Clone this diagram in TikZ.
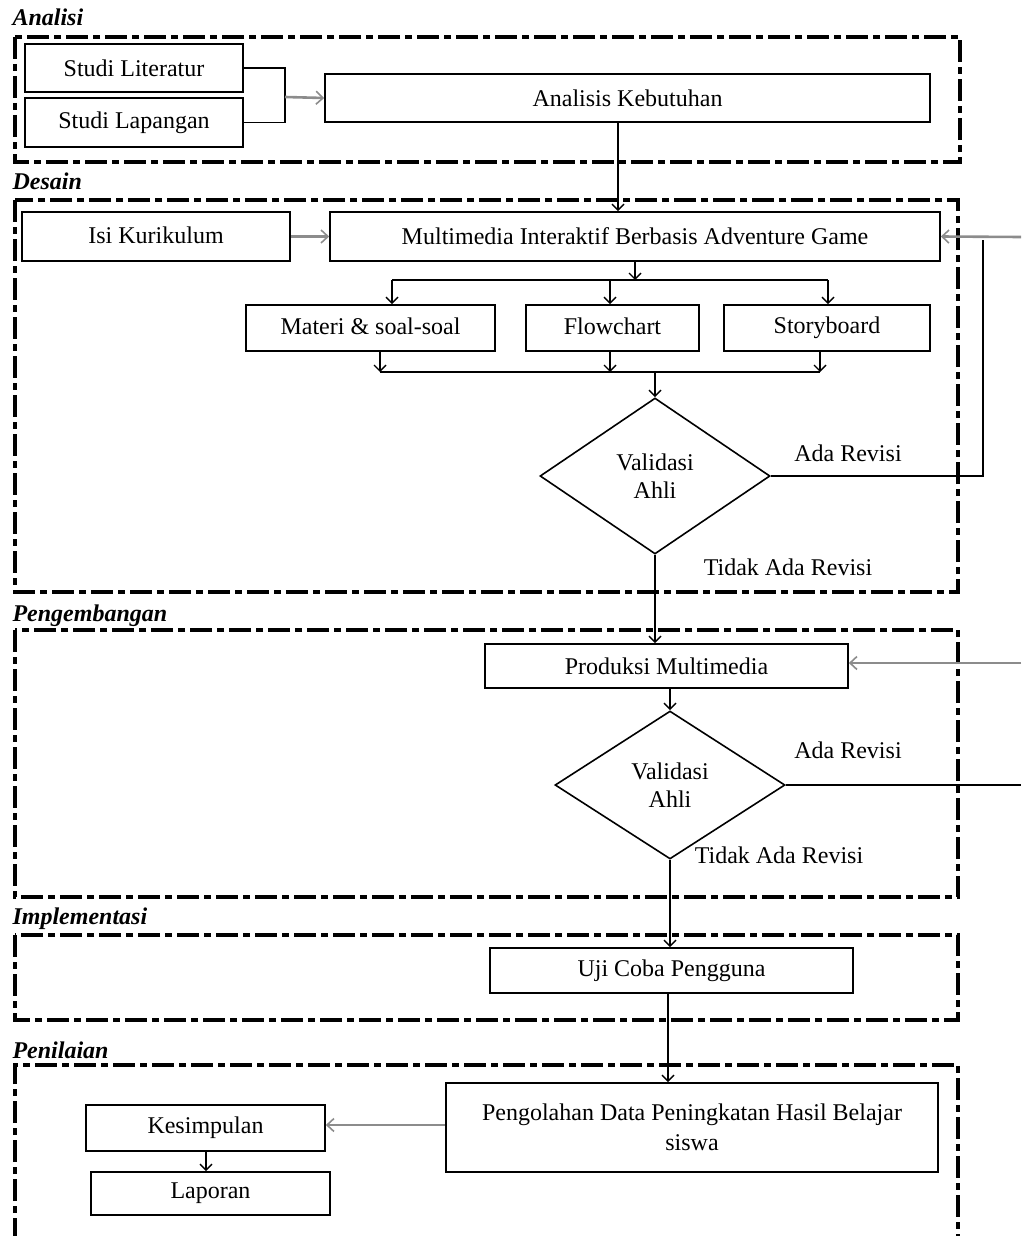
\documentclass[tikz,border=0pt]{standalone}
\usepackage{fontspec}
\setmainfont{Liberation Serif}
\usetikzlibrary{arrows.meta,shapes.geometric}
\begin{document}
\begin{tikzpicture}[x=1pt,y=-1pt,
  box/.style={draw, line width=1.6pt, inner sep=0pt, font=\fontsize{24}{28}\selectfont},
  dia/.style={draw, diamond, line width=1.6pt, inner sep=0pt, align=center, font=\fontsize{24}{28}\selectfont},
  lbl/.style={font=\fontsize{24}{28}\selectfont},
  sec/.style={anchor=west, font=\fontsize{24}{28}\selectfont\bfseries\itshape},
  cont/.style={line width=3.5pt, dash pattern=on 22pt off 5pt on 7pt off 5pt},
  ln/.style={line width=1.6pt},
  arr/.style={ln, -{Straight Barb[length=6pt,width=12pt,line width=1.4pt]}},
  garr/.style={line width=2.6pt, draw=black!45, -{Straight Barb[length=7pt,width=13pt,line width=1.6pt]}}
]
\useasboundingbox (0,0) rectangle (1021,1236);

% containers
\draw[cont] (15,37) rectangle (960,162);
\draw[cont] (15,200) rectangle (958,592);
\draw[cont] (15,630) rectangle (958,897);
\draw[cont] (15,935) rectangle (958,1020);
\draw[cont] (15,1240) -- (15,1065) -- (958,1065) -- (958,1240);

% section labels
\node[sec] (sa) at (9,17) {Analisi};
\node[sec] (sd) at (9,181) {Desain};
\node[sec] (sp) at (9,616) {Pengembangan};
\node[sec] (si) at (9,919) {Implementasi};
\node[sec] (sn) at (9,1050) {Penilaian};

% Analisis
\node[box, minimum width=218, minimum height=48] (lit) at (134,68) {Studi Literatur};
\node[box, minimum width=218, minimum height=49] (lap) at (134,122.5) {Studi Lapangan};
\node[box, minimum width=605, minimum height=48] (ak) at (627.5,98) {Analisis Kebutuhan};
\coordinate (br) at (285,97);
\draw[ln] (lit.east) -| (br) |- (lap.east);
\draw[garr] (br) -- (ak.west);

% Desain
\node[box, minimum width=268, minimum height=49] (kur) at (156,236.5) {\raisebox{3pt}{Isi Kurikulum}};
\node[box, minimum width=610, minimum height=49] (mm) at (635,236.5) {Multimedia Interaktif Berbasis Adventure Game};
\draw[arr] (ak.south -| 618,0) -- (mm.north -| 618,0);
\draw[garr] (kur.east) -- (mm.west);

\node[box, minimum width=249, minimum height=46] (mat) at (370.5,328) {\raisebox{3pt}{Materi \& soal-soal}};
\node[box, minimum width=173, minimum height=46] (flow) at (612.5,328) {\raisebox{3pt}{Flowchart}};
\node[box, minimum width=206, minimum height=46] (story) at (827,328) {Storyboard};

\coordinate (bus1) at (635,280);
\draw[arr] (mm.south) -- (bus1);
\draw[ln] (392,280) -- (828,280);
\draw[arr] (392,280) -- (mat.north -| 392,0);
\draw[arr] (610,280) -- (flow.north -| 610,0);
\draw[arr] (828,280) -- (story.north -| 828,0);

\draw[arr] (mat.south -| 380,0) -- (380,372);
\draw[arr] (flow.south -| 610,0) -- (610,372);
\draw[arr] (story.south -| 820,0) -- (820,372);
\draw[ln] (380,372) -- (820,372);

\node[dia, minimum width=230, minimum height=156] (v1) at (655,476) {Validasi\\Ahli};
\draw[arr] (655,372) -- (v1.north);
\node[lbl] (ar1) at (848,453) {Ada Revisi};
\node[lbl] (tr1) at (788,567) {Tidak Ada Revisi};
\coordinate (lp1) at (983,476);
\coordinate (e1) at (1021,237);
\draw[ln] (v1.east) -- (lp1) -- (983,240);
\draw[garr] (e1) -- (mm.east);

% Pengembangan
\node[box, minimum width=363, minimum height=44] (prod) at (666.5,666) {Produksi Multimedia};
\draw[arr] (v1.south) -- (prod.north -| v1.south);
\node[dia, minimum width=230, minimum height=148] (v2) at (670,785) {Validasi\\Ahli};
\draw[arr] (prod.south -| v2.north) -- (v2.north);
\node[lbl] (ar2) at (848,750) {Ada Revisi};
\node[lbl] (tr2) at (779,855) {Tidak Ada Revisi};
\coordinate (e2) at (1021,785);
\coordinate (e3) at (1021,663);
\draw[ln] (v2.east) -- (e2);
\draw[garr] (e3) -- (prod.east |- e3);

% Implementasi
\node[box, minimum width=363, minimum height=45] (uji) at (671.5,970.5) {Uji Coba Pengguna};
\draw[arr] (v2.south) -- (uji.north -| v2.south);

% Penilaian
\node[box, minimum width=492, minimum height=89, align=center, anchor=north, font=\fontsize{24}{30}\selectfont, text depth=0pt] (peng) at (692,1082) {\rule{0pt}{14pt}Pengolahan Data Peningkatan Hasil Belajar\\siswa\rule[-46pt]{0pt}{0pt}};
\draw[arr] (uji.south -| 668,0) -- (668,1082);
\node[box, minimum width=239, minimum height=46] (kes) at (205.5,1128) {\raisebox{2pt}{Kesimpulan}};
\node[box, minimum width=239, minimum height=43] (lapr) at (210.5,1193.5) {Laporan};
\draw[garr] (peng.west |- 0,1125) -- (kes.east |- 0,1125);
\draw[arr] (kes.south -| 206,0) -- (lapr.north -| 206,0);
\end{tikzpicture}
\end{document}
